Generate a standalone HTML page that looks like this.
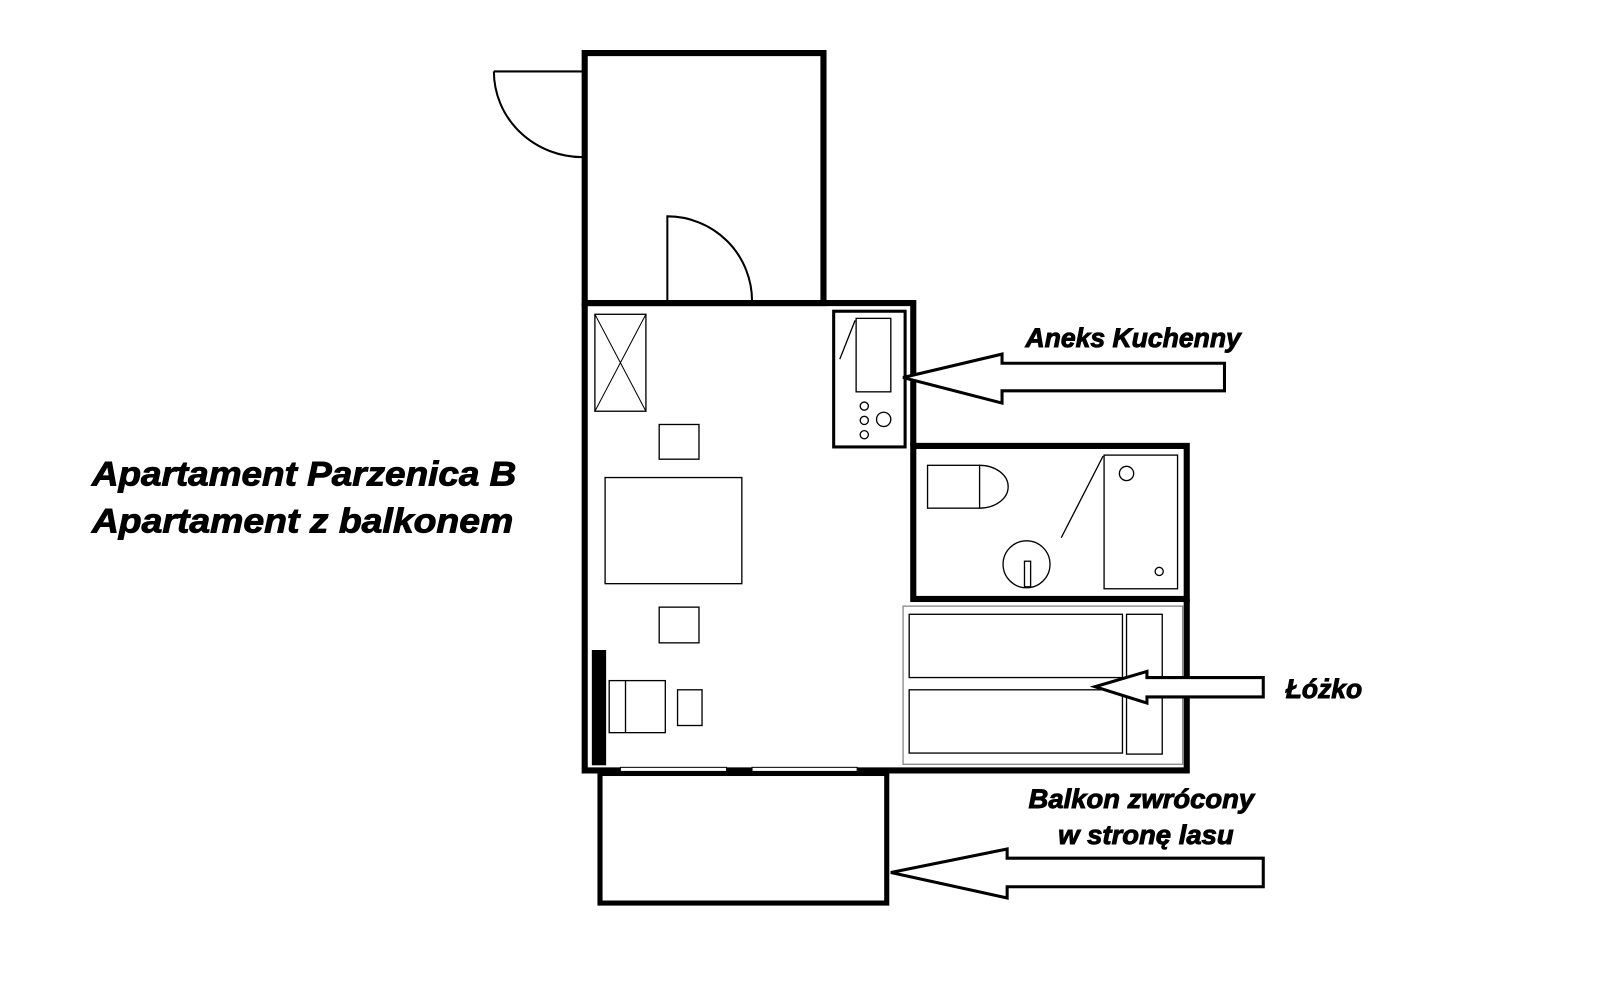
<!DOCTYPE html>
<html><head><meta charset="utf-8"><style>
html,body{margin:0;padding:0;background:#fff;}
svg{display:block}
text{font-family:"Liberation Sans",sans-serif;font-weight:bold;font-style:italic;fill:#000;stroke:#000;stroke-width:0.9}
</style></head><body>
<svg width="1600" height="1000" viewBox="0 0 1568 980" preserveAspectRatio="none" xmlns="http://www.w3.org/2000/svg">
<rect width="1568" height="980" fill="#fff"/>
<g fill="none" stroke="#000">
<rect x="573" y="52" width="234" height="245" stroke-width="6"/>
<path d="M484 70 H571" stroke-width="2"/>
<path d="M484 70 A87 84 0 0 0 571 154" stroke-width="2"/>
<path d="M654 295 V212 A83 83 0 0 1 737 295" stroke-width="2"/>
<path d="M573 297 H895 V437" stroke-width="6"/>
<path d="M573 297 V755 H1163 V587" stroke-width="6"/>
<rect x="895" y="437" width="268" height="150" stroke-width="6"/>
<rect x="608" y="752" width="104" height="5" fill="#fff" stroke-width="1"/>
<rect x="737" y="752" width="103" height="5" fill="#fff" stroke-width="1"/>
<rect x="588" y="758" width="281" height="127" stroke-width="5"/>
<rect x="817" y="305" width="70" height="133" stroke-width="3"/>
<rect x="839" y="312" width="34" height="72" stroke-width="1.3"/>
<path d="M823 352 L838 314" stroke-width="1.3"/>
<circle cx="847" cy="398" r="4" stroke-width="1.3"/>
<circle cx="847" cy="412" r="4" stroke-width="1.3"/>
<circle cx="847" cy="426" r="4" stroke-width="1.3"/>
<circle cx="866" cy="411" r="7" stroke-width="1.3"/>
<rect x="583" y="308" width="50" height="95" stroke-width="1.3"/>
<path d="M583 308 L633 403 M633 308 L583 403" stroke-width="1"/>
<rect x="646" y="416" width="39" height="34" stroke-width="1.3"/>
<rect x="593" y="468" width="134" height="104" stroke-width="1.3"/>
<rect x="646" y="595" width="39" height="35" stroke-width="1.3"/>
<rect x="580" y="637" width="14" height="113" fill="#000" stroke="none"/>
<rect x="597" y="667" width="55" height="51" stroke-width="1.3"/>
<path d="M613 667 V718" stroke-width="1.3"/>
<rect x="664" y="676" width="24" height="35" stroke-width="1.3"/>
<rect x="909" y="456" width="51" height="42" stroke-width="1.3"/>
<path d="M960 456 A28 21 0 0 1 960 498" stroke-width="1.3"/>
<ellipse cx="1006" cy="553" rx="23" ry="23" stroke-width="1.3"/>
<rect x="1004" y="550" width="6" height="25" stroke-width="1.3"/>
<path d="M1040 527 L1081 447" stroke-width="1.3"/>
<rect x="1082" y="446" width="72" height="131" stroke-width="1.3"/>
<circle cx="1104" cy="464" r="7" stroke-width="1.3"/>
<circle cx="1136" cy="560" r="4" stroke-width="1.3"/>
<rect x="885" y="594" width="274" height="155" stroke="#888" stroke-width="1.3"/>
<rect x="891" y="602" width="209" height="62" stroke-width="1.3"/>
<rect x="891" y="676" width="209" height="62" stroke-width="1.3"/>
<rect x="1104" y="602" width="35" height="137" stroke-width="1.3"/>
<path d="M885 370 L982 347 V356 H1200 V383 H982 V395 Z" fill="#fff" stroke-width="3"/>
<path d="M1073 673 L1124 658 V664 H1238 V683 H1124 V689 Z" fill="#fff" stroke-width="3"/>
<path d="M873 855 L987 832 V841 H1238 V869 H987 V880 Z" fill="#fff" stroke-width="3"/>
</g>
<text x="90" y="476" font-size="34" textLength="416" lengthAdjust="spacingAndGlyphs">Apartament Parzenica B</text>
<text x="90" y="522" font-size="34" textLength="413" lengthAdjust="spacingAndGlyphs">Apartament z balkonem</text>
<text x="1005" y="340" font-size="26" textLength="211" lengthAdjust="spacingAndGlyphs">Aneks Kuchenny</text>
<text x="1260" y="684" font-size="26" textLength="75" lengthAdjust="spacingAndGlyphs">Łóżko</text>
<text x="1008" y="792" font-size="26" textLength="221" lengthAdjust="spacingAndGlyphs">Balkon zwrócony</text>
<text x="1037" y="827" font-size="26" textLength="172" lengthAdjust="spacingAndGlyphs">w stronę lasu</text>
</svg>
</body></html>
